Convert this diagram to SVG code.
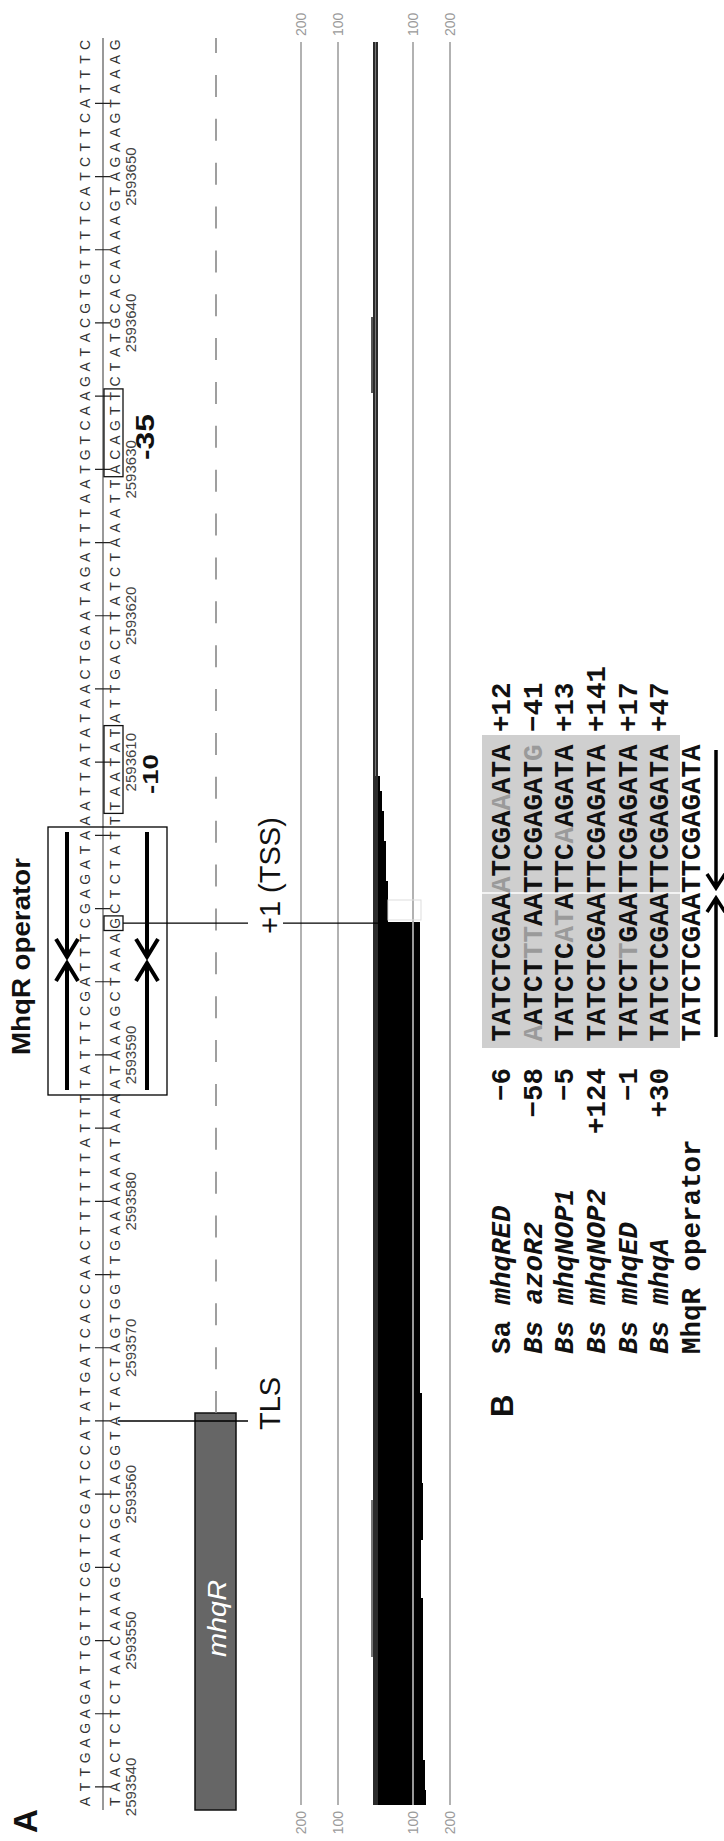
<svg xmlns="http://www.w3.org/2000/svg" width="724" height="1841" viewBox="0 0 724 1841">
<style>
.seq{font-family:"Liberation Sans",Arial,sans-serif;font-size:14px;fill:#333;text-anchor:middle}
.num{font-family:"Liberation Sans",Arial,sans-serif;font-size:15px;fill:#444;text-anchor:middle}
.lab{font-family:"Liberation Sans",Arial,sans-serif;fill:#111}
.bold{font-weight:bold}
.axl{font-family:"Liberation Sans",Arial,sans-serif;font-size:14px;fill:#9a9a9a}
.ax{stroke:#aaa;stroke-width:1.8;fill:none}
.mono{font-family:"Liberation Mono","Courier New",monospace;font-size:27.5px;font-weight:bold;fill:#111}
.g{fill:#9a9a9a}
.arr{stroke:#000;stroke-width:4;fill:none;stroke-linecap:butt}
.arrB{stroke:#000;stroke-width:3.5;fill:none}
.box{fill:none;stroke:#111;stroke-width:1.3}
</style>
<rect width="724" height="1841" fill="#fff"/>
<g transform="translate(0,1841) rotate(-90)">
  <g id="label-A"><text class="lab bold" x="8" y="37" font-size="33">A</text></g>
  <g id="title-operator"><text class="lab bold" x="786" y="30" font-size="25" textLength="197" lengthAdjust="spacingAndGlyphs">MhqR operator</text></g>

  <g id="axes">
    <path class="ax" d="M36 301H1799M36 338H1799M36 413H1799M36 450H1799"/>
  </g>

  <g id="coverage">
    <path fill="#000" d="M36 373V426H51V425H81V423H243V421H301V423H358V422H448V420H919V388H960V386H1000V384H1030V382H1050V380H1065V373Z"/>
    <rect x="36" y="373" width="1763" height="5" fill="#2b2b2b"/>
    <line x1="1065" y1="375.5" x2="1799" y2="375.5" stroke="#777" stroke-width="1"/>
    <rect x="1448" y="371" width="76" height="2" fill="#555"/>
    <rect x="184" y="371" width="157" height="2" fill="#777"/>
    <rect x="921" y="388" width="20" height="33" fill="none" stroke="#ddd" stroke-width="1"/>
    <line x1="36" y1="413" x2="919" y2="413" stroke="#aaa" stroke-width="1.8"/>
  </g>

  <g id="axis-labels">
    <text class="axl" x="30" y="306" text-anchor="end">200</text>
    <text class="axl" x="30" y="343" text-anchor="end">100</text>
    <text class="axl" x="30" y="418" text-anchor="end">100</text>
    <text class="axl" x="30" y="455" text-anchor="end">200</text>
    <text class="axl" x="1805" y="306">200</text>
    <text class="axl" x="1805" y="343">100</text>
    <text class="axl" x="1805" y="418">100</text>
    <text class="axl" x="1805" y="455">200</text>
  </g>

  <g id="gene-mhqR">
    <rect x="31" y="195" width="397" height="41" fill="#666" stroke="#111" stroke-width="1.5"/>
    <text x="184" y="226" font-family="Liberation Sans, Arial, sans-serif" font-style="italic" font-size="26" fill="#fff" textLength="77" lengthAdjust="spacingAndGlyphs">mhqR</text>
  </g>
  <g id="intergenic">
    <line x1="428" y1="216" x2="1803" y2="216" stroke="#888" stroke-width="1.6" stroke-dasharray="22 21.87"/>
  </g>

  <g id="sequence">
    <line x1="31" y1="103" x2="1803" y2="103" stroke="#555" stroke-width="1.2"/>
    <path stroke="#222" stroke-width="1.2" d="M54.04 95v15M127.24 95v15M200.44 95v15M273.64 95v15M346.84 95v15M420.04 95v15M493.24 95v15M566.44 95v15M639.64 95v15M712.84 95v15M786.04 95v15M859.24 95v15M932.44 95v15M1005.64 95v15M1078.84 95v15M1152.04 95v15M1225.24 95v15M1298.44 95v15M1371.64 95v15M1444.84 95v15M1518.04 95v15M1591.24 95v15M1664.44 95v15M1737.64 95v15"/>
    <text class="seq" y="90" x="39.4 54.04 68.68 83.32 97.96 112.6 127.24 141.88 156.52 171.16 185.8 200.44 215.08 229.72 244.36 259 273.64 288.28 302.92 317.56 332.2 346.84 361.48 376.12 390.76 405.4 420.04 434.68 449.32 463.96 478.6 493.24 507.88 522.52 537.16 551.8 566.44 581.08 595.72 610.36 625 639.64 654.28 668.92 683.56 698.2 712.84 727.48 742.12 756.76 771.4 786.04 800.68 815.32 829.96 844.6 859.24 873.88 888.52 903.16 917.8 932.44 947.08 961.72 976.36 991 1005.64 1020.28 1034.92 1049.56 1064.2 1078.84 1093.48 1108.12 1122.76 1137.4 1152.04 1166.68 1181.32 1195.96 1210.6 1225.24 1239.88 1254.52 1269.16 1283.8 1298.44 1313.08 1327.72 1342.36 1357 1371.64 1386.28 1400.92 1415.56 1430.2 1444.84 1459.48 1474.12 1488.76 1503.4 1518.04 1532.68 1547.32 1561.96 1576.6 1591.24 1605.88 1620.52 1635.16 1649.8 1664.44 1679.08 1693.72 1708.36 1723 1737.64 1752.28 1766.92 1781.56 1796.2">ATTGAGAGATTGTTTCGTTCGATCCATATGATCACCAACTTTTTTATTTTATTTCGATTTCGAGATAAATTATATAACTGAATAGATTTAATGTCAAGATACGTGTTTTCATCTTCATTTC</text>
    <text class="seq" y="120" x="39.4 54.04 68.68 83.32 97.96 112.6 127.24 141.88 156.52 171.16 185.8 200.44 215.08 229.72 244.36 259 273.64 288.28 302.92 317.56 332.2 346.84 361.48 376.12 390.76 405.4 420.04 434.68 449.32 463.96 478.6 493.24 507.88 522.52 537.16 551.8 566.44 581.08 595.72 610.36 625 639.64 654.28 668.92 683.56 698.2 712.84 727.48 742.12 756.76 771.4 786.04 800.68 815.32 829.96 844.6 859.24 873.88 888.52 903.16 917.8 932.44 947.08 961.72 976.36 991 1005.64 1020.28 1034.92 1049.56 1064.2 1078.84 1093.48 1108.12 1122.76 1137.4 1152.04 1166.68 1181.32 1195.96 1210.6 1225.24 1239.88 1254.52 1269.16 1283.8 1298.44 1313.08 1327.72 1342.36 1357 1371.64 1386.28 1400.92 1415.56 1430.2 1444.84 1459.48 1474.12 1488.76 1503.4 1518.04 1532.68 1547.32 1561.96 1576.6 1591.24 1605.88 1620.52 1635.16 1649.8 1664.44 1679.08 1693.72 1708.36 1723 1737.64 1752.28 1766.92 1781.56 1796.2">TAACTCTCTAACAAAGCAAGCTAGGTATACTAGTGGTTGAAAAAATAAAATAAAGCTAAAGCTCTATTTAATATATTGACTTATCTAAATTACAGTTCTATGCACAAAAGTAGAAGTAAAG</text>
    <text class="num" x="54.04" y="136">2593540</text>
    <text class="num" x="200.44" y="136">2593550</text>
    <text class="num" x="346.84" y="136">2593560</text>
    <text class="num" x="493.24" y="136">2593570</text>
    <text class="num" x="639.64" y="136">2593580</text>
    <text class="num" x="786.04" y="136">2593590</text>
    <text class="num" x="1078.84" y="136">2593610</text>
    <text class="num" x="1225.24" y="136">2593620</text>
    <text class="num" x="1371.64" y="136">2593630</text>
    <text class="num" x="1518.04" y="136">2593640</text>
    <text class="num" x="1664.44" y="136">2593650</text>
  </g>

  <g id="operator-box">
    <rect x="746" y="48" width="268" height="119" fill="none" stroke="#000" stroke-width="1.3"/>
  </g>
  <g id="connectors">
    <path class="arr" d="M751 67H877M860 56L878 67L860 78M1009 67H885M902 56L884 67L902 78"/>
    <path class="arr" d="M751 147H877M860 136L878 147L860 158M1009 147H885M902 136L884 147L902 158"/>
    <line x1="420" y1="118" x2="420" y2="248" stroke="#000" stroke-width="1.3"/>
    <line x1="917.8" y1="123" x2="917.8" y2="248" stroke="#000" stroke-width="1.3"/>
    <line x1="917.8" y1="283" x2="917.8" y2="378" stroke="#000" stroke-width="1.3"/>
    <path class="arrB" d="M804 716H942M929 707L943 716L929 725M1091 716H954M967 707L953 716L967 725"/>
  </g>

  <g id="tss-box"><rect class="box" x="910.5" y="104" width="14.6" height="19"/></g>
  <g id="minus10">
    <rect class="box" x="1027.6" y="104" width="87.8" height="19"/>
    <text class="lab bold" x="1047" y="158" font-size="22" textLength="40" lengthAdjust="spacingAndGlyphs">-10</text>
  </g>
  <g id="minus35">
    <rect class="box" x="1364.3" y="104" width="87.8" height="19"/>
    <text class="lab bold" x="1381" y="154" font-size="25" textLength="46" lengthAdjust="spacingAndGlyphs">-35</text>
  </g>
  <g id="TSS-label"><text class="lab" x="907" y="280" font-size="29" fill="#222">+1 (TSS)</text></g>
  <g id="TLS-label"><text class="lab" x="411" y="280" font-size="29" fill="#222">TLS</text></g>

  <g id="panel-B">
    <text class="lab bold" x="424" y="513" font-size="31">B</text>
    <rect x="793" y="482" width="313" height="198" fill="#cfcfcf"/>
    <line x1="948" y1="482" x2="948" y2="680" stroke="#fff" stroke-width="1.5"/>
    <g id="row1">
      <text class="mono" x="487" y="510">Sa <tspan font-style="italic">mhqRED</tspan></text>
      <text class="mono" x="773" y="510" text-anchor="end">−6</text>
      <text class="mono" x="799.5" y="510">TATCTCGAA<tspan class="g">A</tspan>TCGA<tspan class="g">A</tspan>ATA</text>
      <text class="mono" x="1109" y="510">+12</text>
    </g>
    <g id="row2">
      <text class="mono" x="487" y="541.7" font-style="italic">Bs azoR2</text>
      <text class="mono" x="773" y="541.7" text-anchor="end">−58</text>
      <text class="mono" x="799.5" y="541.7"><tspan class="g">A</tspan>ATCT<tspan class="g">TT</tspan>AATTCGAGAT<tspan class="g">G</tspan></text>
      <text class="mono" x="1109" y="541.7">−41</text>
    </g>
    <g id="row3">
      <text class="mono" x="487" y="573.3" font-style="italic">Bs mhqNOP1</text>
      <text class="mono" x="773" y="573.3" text-anchor="end">−5</text>
      <text class="mono" x="799.5" y="573.3">TATCTC<tspan class="g">AT</tspan>ATTC<tspan class="g">A</tspan>AGATA</text>
      <text class="mono" x="1109" y="573.3">+13</text>
    </g>
    <g id="row4">
      <text class="mono" x="487" y="605" font-style="italic">Bs mhqNOP2</text>
      <text class="mono" x="773" y="605" text-anchor="end">+124</text>
      <text class="mono" x="799.5" y="605">TATCTCGAATTCGAGATA</text>
      <text class="mono" x="1109" y="605">+141</text>
    </g>
    <g id="row5">
      <text class="mono" x="487" y="636.7" font-style="italic">Bs mhqED</text>
      <text class="mono" x="773" y="636.7" text-anchor="end">−1</text>
      <text class="mono" x="799.5" y="636.7">TATCT<tspan class="g">T</tspan>GAATTCGAGATA</text>
      <text class="mono" x="1109" y="636.7">+17</text>
    </g>
    <g id="row6">
      <text class="mono" x="487" y="668.3" font-style="italic">Bs mhqA</text>
      <text class="mono" x="773" y="668.3" text-anchor="end">+30</text>
      <text class="mono" x="799.5" y="668.3">TATCTCGAATTCGAGATA</text>
      <text class="mono" x="1109" y="668.3">+47</text>
    </g>
    <g id="row7">
      <text class="mono" x="487" y="700">MhqR operator</text>
      <text class="mono" x="799.5" y="700">TATCTCGAATTCGAGATA</text>
    </g>
  </g>
</g>
</svg>
